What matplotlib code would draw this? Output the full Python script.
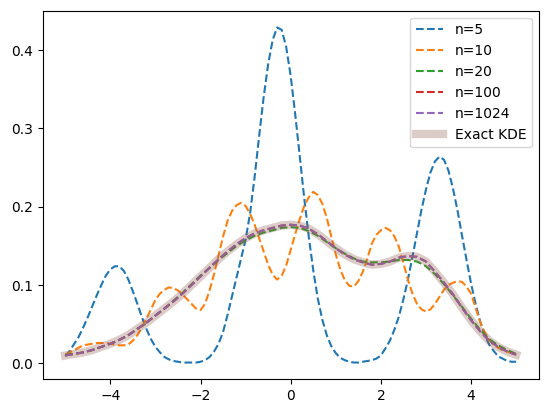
import numpy as np
import matplotlib
matplotlib.use("Agg")
import matplotlib.pyplot as plt

# ---------------------------------------------------------------------------
# Values
# ---------------------------------------------------------------------------
X_MIN, X_MAX = -5.0, 5.0

# n=5 and n=10 approximations, sampled every 0.1 from -5 to 5
n5 = [
    0.009, 0.016, 0.025, 0.034, 0.046, 0.059, 0.073, 0.087, 0.100, 0.112,
    0.120, 0.124, 0.124, 0.118, 0.107, 0.092, 0.076, 0.059, 0.044, 0.031,
    0.021, 0.014, 0.008, 0.005, 0.003, 0.002, 0.001, 0.001, 0.001, 0.001,
    0.002, 0.004, 0.008, 0.015, 0.025, 0.040, 0.062, 0.086, 0.110, 0.134,
    0.158, 0.192, 0.238, 0.290, 0.340, 0.382, 0.413, 0.429, 0.426, 0.404,
    0.367, 0.318, 0.265, 0.211, 0.162, 0.119, 0.083, 0.056, 0.036, 0.022,
    0.013, 0.007, 0.004, 0.002, 0.001, 0.001, 0.002, 0.003, 0.004, 0.006,
    0.010, 0.019, 0.029, 0.043, 0.060, 0.082, 0.107, 0.136, 0.166, 0.196,
    0.222, 0.244, 0.258, 0.264, 0.260, 0.246, 0.223, 0.195, 0.163, 0.132,
    0.102, 0.076, 0.054, 0.037, 0.024, 0.016, 0.009, 0.006, 0.003, 0.002,
    0.002,
]
n10 = [
    0.011, 0.014, 0.017, 0.020, 0.023, 0.024, 0.025, 0.026, 0.026, 0.026,
    0.025, 0.024, 0.023, 0.023, 0.024, 0.029, 0.036, 0.046, 0.057, 0.069,
    0.081, 0.089, 0.094, 0.097, 0.096, 0.093, 0.088, 0.082, 0.076, 0.070,
    0.068, 0.076, 0.093, 0.114, 0.138, 0.162, 0.182, 0.195, 0.202, 0.205,
    0.201, 0.191, 0.177, 0.160, 0.143, 0.126, 0.113, 0.107, 0.112, 0.125,
    0.145, 0.165, 0.184, 0.201, 0.212, 0.219, 0.215, 0.204, 0.186, 0.162,
    0.139, 0.120, 0.106, 0.099, 0.098, 0.105, 0.117, 0.134, 0.153, 0.164,
    0.170, 0.173, 0.170, 0.162, 0.149, 0.128, 0.107, 0.089, 0.076, 0.069,
    0.066, 0.069, 0.076, 0.085, 0.094, 0.100, 0.103, 0.105, 0.104, 0.098,
    0.089, 0.071, 0.053, 0.040, 0.030, 0.024, 0.020, 0.017, 0.015, 0.013,
    0.012,
]

# the smoother curves, sampled every 0.2 from -5 to 5
n20 = [
    0.011, 0.012, 0.014, 0.017, 0.021, 0.025, 0.030, 0.036, 0.044, 0.052,
    0.061, 0.070, 0.080, 0.090, 0.101, 0.112, 0.122, 0.132, 0.141, 0.150,
    0.157, 0.163, 0.167, 0.170, 0.173, 0.174, 0.173, 0.169, 0.163, 0.155,
    0.147, 0.140, 0.134, 0.130, 0.129, 0.129, 0.130, 0.132, 0.132, 0.130,
    0.124, 0.114, 0.101, 0.087, 0.072, 0.057, 0.043, 0.031, 0.023, 0.017,
    0.012,
]
n100 = [
    0.010, 0.012, 0.014, 0.017, 0.021, 0.025, 0.030, 0.036, 0.044, 0.052,
    0.061, 0.070, 0.079, 0.089, 0.100, 0.111, 0.122, 0.133, 0.143, 0.152,
    0.160, 0.166, 0.170, 0.173, 0.176, 0.177, 0.176, 0.172, 0.165, 0.156,
    0.147, 0.139, 0.133, 0.129, 0.126, 0.127, 0.130, 0.135, 0.137, 0.136,
    0.130, 0.117, 0.103, 0.088, 0.071, 0.055, 0.041, 0.029, 0.021, 0.015,
    0.011,
]
n1024 = list(n100)
exact_kde = list(n100)

x_fine = np.linspace(X_MIN, X_MAX, len(n5))
x = np.linspace(X_MIN, X_MAX, len(n20))

# ---------------------------------------------------------------------------
# Plot
# ---------------------------------------------------------------------------
fig = plt.figure(figsize=(5.47, 4.13), dpi=100)
ax = fig.add_axes([42.7 / 547, 1 - 379.3 / 413, 496 / 547, 368.6 / 413])

ax.plot(x_fine, n5, "--", label="n=5")
ax.plot(x_fine, n10, "--", label="n=10")
ax.plot(x, n20, "--", label="n=20")
ax.plot(x, n100, "--", label="n=100")
ax.plot(x, n1024, "--", label="n=1024")
ax.plot(x, exact_kde, color="tab:brown", alpha=0.3, linewidth=6,
        label="Exact KDE")

ax.set_xticks([-4, -2, 0, 2, 4])
ax.legend(loc="upper right")

fig.savefig("out.png", dpi=100)
